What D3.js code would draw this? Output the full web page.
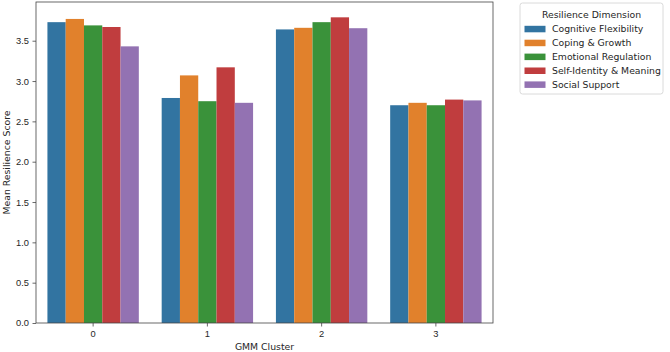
<!DOCTYPE html>
<html><head><meta charset="utf-8">
<script src="https://cdn.jsdelivr.net/npm/d3@7"></script>
<style>body{margin:0;background:#fff}svg{display:block;font-family:"DejaVu Sans",sans-serif}</style>
</head><body><svg id="c" width="670" height="352"></svg>
<script>
const clusters = ["0","1","2","3"];
const dimensions = ["Cognitive Flexibility","Coping & Growth","Emotional Regulation","Self-Identity & Meaning","Social Support"];
const cognitiveFlexibility = [3.73, 2.79, 3.64, 2.70];
const copingGrowth = [3.77, 3.07, 3.66, 2.73];
const emotionalRegulation = [3.69, 2.75, 3.73, 2.70];
const selfIdentityMeaning = [3.67, 3.17, 3.79, 2.77];
const socialSupport = [3.43, 2.73, 3.655, 2.76];
const yTicks = [0,0.5,1,1.5,2,2.5,3,3.5];
const colors = ["#3274a1","#e1812c","#3a923a","#c03d3e","#9372b2"];

const seriesVals = [cognitiveFlexibility, copingGrowth, emotionalRegulation, selfIdentityMeaning, socialSupport];
const svg = d3.select("#c");
const L=36, R=493, T=2, B=323;
const x = d3.scaleBand().domain(clusters).range([L,R]).paddingInner(0.2).paddingOuter(0.1);
const xs = d3.scaleBand().domain(dimensions).range([0,x.bandwidth()]);
const y = d3.scaleLinear().domain([0,3.98]).range([B,T]);

const g = svg.append("g");
dimensions.forEach((d,i)=>{
  g.selectAll(null).data(clusters).enter().append("rect")
   .attr("x",c=>x(c)+xs(d)).attr("width",xs.bandwidth())
   .attr("y",(c,j)=>y(seriesVals[i][j])).attr("height",(c,j)=>y(0)-y(seriesVals[i][j]))
   .attr("fill",colors[i]);
});

const fs = "9.3px";
const ax = svg.append("g").attr("transform",`translate(0,${B})`)
  .call(d3.axisBottom(x).tickSize(3.5).tickPadding(3.5));
const ay = svg.append("g").attr("transform",`translate(${L},0)`)
  .call(d3.axisLeft(y).tickValues(yTicks).tickFormat(d3.format(".1f")).tickSize(3.5).tickPadding(3.5));
[ax,ay].forEach(a=>{a.select(".domain").remove();a.selectAll("text").style("font-size",fs).attr("fill","#262626");a.selectAll("line").attr("stroke","#444").attr("stroke-width",0.8);});
ax.selectAll("text").attr("dy","0.75em");
svg.append("rect").attr("x",L).attr("y",T).attr("width",R-L).attr("height",B-T)
  .attr("fill","none").attr("stroke","#444").attr("stroke-width",0.8);

svg.append("text").attr("x",(L+R)/2).attr("y",349.5).attr("text-anchor","middle").style("font-size",fs).attr("fill","#262626").text("GMM Cluster");
svg.append("text").attr("transform",`translate(10,${(T+B)/2}) rotate(-90)`).attr("text-anchor","middle").style("font-size",fs).attr("fill","#262626").text("Mean Resilience Score");

const lg = svg.append("g");
lg.append("rect").attr("x",520).attr("y",3).attr("width",143).attr("height",91).attr("rx",2.5)
  .attr("fill","#fff").attr("stroke","#d0d0d0").attr("stroke-width",0.8);
lg.append("text").attr("x",591.5).attr("y",18).attr("text-anchor","middle").style("font-size",fs).attr("fill","#262626").text("Resilience Dimension");
dimensions.forEach((d,i)=>{
  const yy = 29 + i*13.9;
  lg.append("rect").attr("x",524.5).attr("y",yy-3.2).attr("width",21).attr("height",6.5).attr("fill",colors[i]);
  lg.append("text").attr("x",552).attr("y",yy+3.4).style("font-size",fs).attr("fill","#262626").text(d);
});
</script></body></html>
